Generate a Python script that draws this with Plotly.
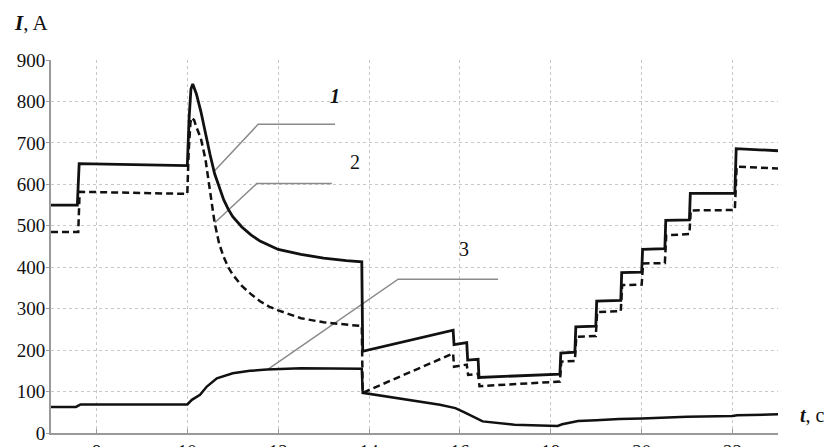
import plotly.graph_objects as go

# Time axis, s
x_ticks = [8, 10, 12, 14, 16, 18, 20, 22]
y_ticks = [0, 100, 200, 300, 400, 500, 600, 700, 800, 900]

# Curve 1 (solid)
t1 = [7.0, 7.58, 7.62, 8.5, 10.0, 10.04, 10.08, 10.12, 10.2, 10.3, 10.4, 10.5,
      10.6, 10.7, 10.8, 10.9, 11.0, 11.2, 11.4, 11.6, 11.8, 12.0, 12.5, 13.0,
      13.5, 13.84, 13.86, 15.85, 15.87, 16.15, 16.17, 16.4, 16.42, 18.2, 18.22,
      18.53, 18.55, 18.99, 19.01, 19.54, 19.56, 20.0, 20.02, 20.51, 20.53,
      21.05, 21.07, 22.05, 22.08, 23.0]
i1 = [550, 550, 650, 648, 645, 760, 830, 842, 818, 775, 722, 672,
      626, 592, 563, 540, 522, 497, 478, 463, 452, 443, 431, 422,
      416, 413, 197, 248, 213, 218, 176, 178, 134, 142, 193,
      195, 256, 258, 318, 320, 387, 388, 443, 445, 513,
      514, 578, 578, 686, 681]

# Curve 2 (dashed)
t2 = [7.0, 7.6, 7.63, 10.0, 10.03, 10.07, 10.1, 10.15, 10.2, 10.3, 10.4, 10.5,
      10.6, 10.7, 10.8, 10.9, 11.0, 11.2, 11.4, 11.6, 11.8, 12.0, 12.5, 13.0,
      13.5, 13.84, 13.86, 15.85, 15.87, 16.15, 16.18, 16.4, 16.43, 18.2, 18.23,
      18.53, 18.56, 18.99, 19.02, 19.54, 19.57, 20.0, 20.03, 20.51, 20.54,
      21.05, 21.08, 22.05, 22.09, 23.0]
i2 = [485, 485, 582, 577, 680, 750, 761, 755, 738, 710, 660, 585,
      508, 457, 425, 400, 382, 355, 335, 318, 305, 296, 277, 267,
      261, 258, 97, 192, 160, 165, 140, 143, 113, 124, 172,
      174, 232, 234, 292, 294, 357, 358, 409, 410, 477,
      480, 537, 538, 643, 638]

# Curve 3 (solid, lower)
t3 = [7.0, 7.55, 7.65, 10.0, 10.1, 10.28, 10.43, 10.65, 11.0, 11.38, 11.75,
      12.5, 13.84, 13.86, 15.56, 15.9, 16.1, 16.3, 16.5, 17.2, 18.15, 18.25,
      18.5, 18.6, 19.0, 19.5, 20.0, 20.5, 21.0, 22.0, 22.1, 23.0]
i3 = [63, 63, 69, 69, 80, 92, 112, 132, 144, 150, 153,
      156, 155, 97, 68, 60, 50, 38, 28, 20, 17, 21,
      26, 29, 31, 34, 35, 37, 39, 41, 43, 45]

# Callout leader lines (t, I) and their labels
lead1_t, lead1_i = [10.57, 11.56, 13.25], [629, 745, 745]
lead2_t, lead2_i = [10.61, 11.53, 13.18], [508, 602, 602]
lead3_t, lead3_i = [11.78, 14.64, 16.84], [154, 371, 371]
labels = [("<b><i>1</i></b>", 13.25, 812), ("2", 13.70, 653), ("3", 16.08, 444)]

FONT = "Liberation Serif"
BLACK = "#111111"
LEAD = "#8a8a8a"

fig = go.Figure()
for lt, li in [(lead1_t, lead1_i), (lead2_t, lead2_i), (lead3_t, lead3_i)]:
    fig.add_trace(go.Scatter(x=lt, y=li, mode="lines",
                             line=dict(color=LEAD, width=1.5),
                             hoverinfo="skip", showlegend=False))

fig.add_trace(go.Scatter(x=t3, y=i3, mode="lines", name="3",
                         line=dict(color=BLACK, width=2.5), showlegend=False))
fig.add_trace(go.Scatter(x=t2, y=i2, mode="lines", name="2",
                         line=dict(color=BLACK, width=2.5, dash="7px,4px"),
                         showlegend=False))
fig.add_trace(go.Scatter(x=t1, y=i1, mode="lines", name="1",
                         line=dict(color=BLACK, width=2.8), showlegend=False))

for text, tx, ty in labels:
    fig.add_annotation(x=tx, y=ty, text=text, showarrow=False,
                       font=dict(family=FONT, size=20, color=BLACK))

# Axis titles
fig.add_annotation(xref="paper", yref="paper", x=-0.053, y=1.098,
                   xanchor="left", yanchor="middle", showarrow=False,
                   text="<b><i>I</i></b>, A",
                   font=dict(family=FONT, size=21, color=BLACK))
fig.add_annotation(xref="paper", yref="paper", x=1.027, y=0.048,
                   xanchor="left", yanchor="middle", showarrow=False,
                   text="<b><i>t</i></b>, c",
                   font=dict(family=FONT, size=20, color=BLACK))

tick_font = dict(family=FONT, size=19, color=BLACK)
fig.update_layout(
    template="none",
    width=839, height=447,
    margin=dict(l=51, r=61, t=60, b=14),
    paper_bgcolor="white", plot_bgcolor="white",
    font=dict(family=FONT, size=19, color=BLACK),
    showlegend=False,
    xaxis=dict(
        range=[7, 23], tickmode="array", tickvals=x_ticks, automargin=False,
        showgrid=True, gridcolor="#c8c8c8", griddash="dot", gridwidth=1,
        showline=True, linecolor="#9a9a9a", linewidth=2,
        ticks="inside", ticklen=4, tickcolor="#9a9a9a",
        zeroline=False, tickfont=tick_font,
    ),
    yaxis=dict(
        range=[0, 900], tickmode="array", tickvals=y_ticks, automargin=False,
        showgrid=True, gridcolor="#c8c8c8", griddash="dot", gridwidth=1,
        showline=True, linecolor="#9a9a9a", linewidth=2,
        ticks="outside", ticklen=3, tickcolor="#9a9a9a",
        zeroline=False, tickfont=tick_font, ticklabelstandoff=-3,
    ),
)

fig.write_html("out.html")
